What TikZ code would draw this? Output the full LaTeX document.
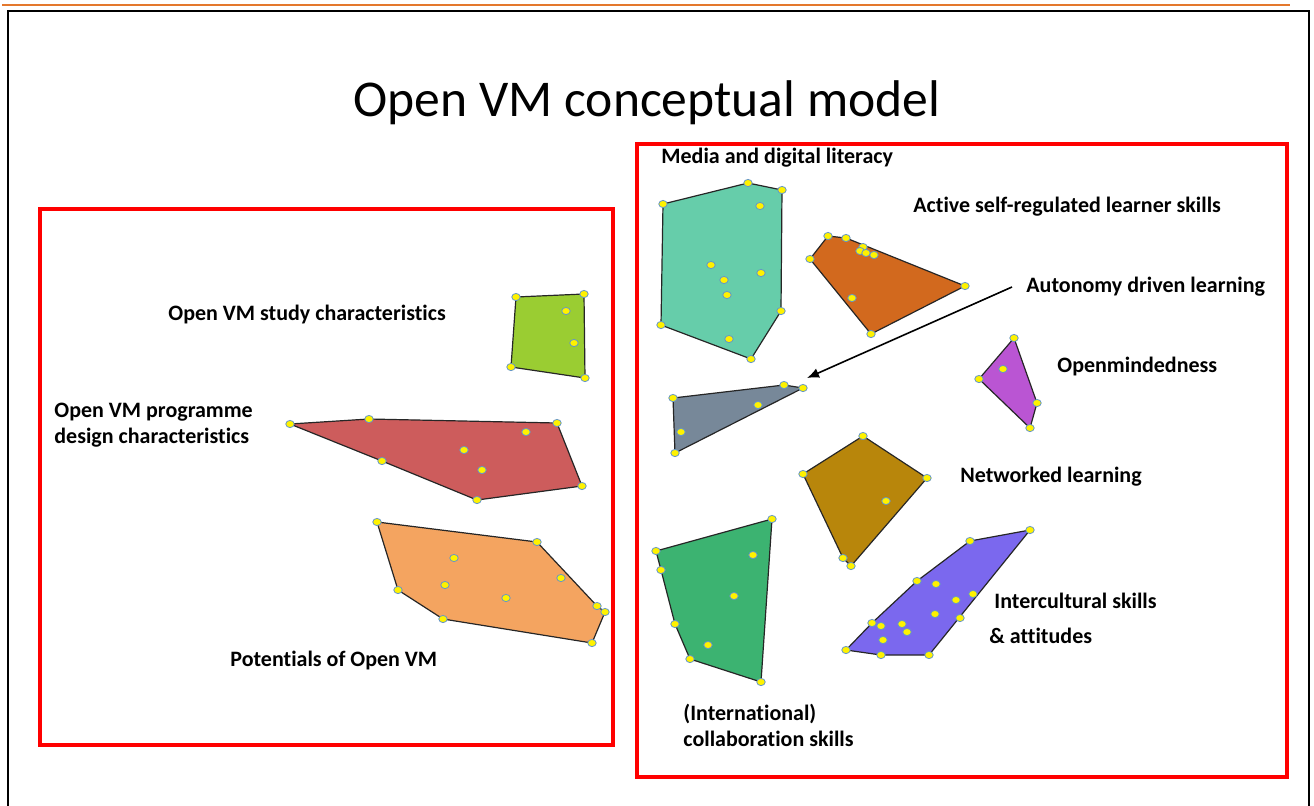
\documentclass[tikz,border=0pt]{standalone}
\usepackage{fontspec}
\setmainfont{Carlito}[Ligatures=NoCommon]
\usetikzlibrary{positioning,arrows.meta}
\definecolor{teal1}{RGB}{102,205,170}
\definecolor{choco}{RGB}{210,105,30}
\definecolor{orchid1}{RGB}{186,85,211}
\definecolor{slate1}{RGB}{119,136,153}
\definecolor{gold1}{RGB}{184,134,11}
\definecolor{sea1}{RGB}{60,179,113}
\definecolor{slateblue1}{RGB}{123,104,238}
\definecolor{ygreen}{RGB}{154,205,50}
\definecolor{indred}{RGB}{205,92,92}
\definecolor{sandy}{RGB}{244,164,96}
\definecolor{dotrim}{RGB}{100,150,200}
\definecolor{topline}{RGB}{228,120,45}
\tikzset{
  groupbox/.style={draw=red, line width=2pt},
  hull/.style={draw=black!85, line width=0.6pt, line join=round},
  seedpt/.style={fill=yellow, draw=dotrim, line width=0.4pt},
  clusterlabel/.style={font=\bfseries\fontsize{11}{13}\selectfont, inner sep=0pt, align=left},
  pointer/.style={-{Latex[length=6pt,width=5pt]}, line width=0.8pt}
}
\begin{document}
\begin{tikzpicture}[x=0.5pt, y=-0.5pt]
  \useasboundingbox (0,0) rectangle (1314,805);
  % page frame
  \draw[topline, line width=0.8pt] (2,5) -- (1290,5);
  \draw[black, line width=1.2pt] (8,820) -- (8,11) -- (1309,11) -- (1309,820);
  \node[font=\fontsize{25.8}{30}\selectfont, inner sep=0pt] (title) at (647,103) {Open VM conceptual model};
  % the two groups
  \draw[groupbox] (40,209) rectangle (613,745);
  \draw[groupbox] (637,144) rectangle (1287,777);

  % left group clusters
  \filldraw[hull, fill=ygreen] (516,297) -- (584,294) -- (585,378) -- (511,367) -- cycle;
  \filldraw[hull, fill=indred] (290,424) -- (369,419) -- (557,423) -- (582,486) -- (477,500) -- (382,461) -- cycle;
  \filldraw[hull, fill=sandy] (377,522) -- (537,542) -- (597,606) -- (605,612) -- (592,643) -- (443,619) -- (398,590) -- cycle;
  % right group clusters
  \filldraw[hull, fill=teal1] (663,204) -- (748,183) -- (782,190) -- (781,311) -- (751,359) -- (661,325) -- cycle;
  \filldraw[hull, fill=choco] (828,236) -- (846,238) -- (965,286) -- (871,334) -- (810,259) -- cycle;
  \filldraw[hull, fill=orchid1] (1014,338) -- (1037,403) -- (1030,428) -- (979,379) -- cycle;
  \filldraw[hull, fill=slate1] (673,398) -- (784,385) -- (803,388) -- (675,453) -- cycle;
  \filldraw[hull, fill=gold1] (863,436) -- (927,478) -- (851,566) -- (843,558) -- (803,474) -- cycle;
  \filldraw[hull, fill=sea1] (772,519) -- (761,682) -- (690,659) -- (675,624) -- (661,570) -- (656,551) -- cycle;
  \filldraw[hull, fill=slateblue1] (1030,530) -- (970,541) -- (917,581) -- (872,623) -- (846,650) -- (881,655) -- (929,655) -- cycle;

  % data points
  \foreach \p in {(516,297),(584,294),(585,378),(511,367),(566,311),(574,343),
      (290,424),(369,419),(557,423),(582,486),(477,500),(382,461),(526,432),(464,450),(482,470),
      (377,522),(537,542),(597,606),(605,612),(592,643),(443,619),(398,590),(454,558),(445,585),(506,598),(561,578),
      (663,204),(748,183),(782,190),(781,311),(751,359),(661,325),(760,206),(711,265),(724,280),(761,273),(727,295),(729,339),
      (828,236),(846,238),(965,286),(871,334),(810,259),(863,247),(860,251),(866,253),(874,255),(852,298),
      (1014,338),(1037,403),(1030,428),(979,379),(1003,369),
      (673,398),(784,385),(803,388),(675,453),(758,405),(681,432),
      (863,436),(927,478),(851,566),(843,558),(803,474),(886,501),
      (772,519),(761,682),(690,659),(675,624),(661,570),(656,551),(753,555),(734,596),(708,645),
      (1030,530),(970,541),(917,581),(872,623),(846,650),(881,655),(929,655),(936,584),(956,600),(973,594),(935,614),(960,618),(881,626),(902,624),(907,632),(883,640)}
    \filldraw[seedpt] \p ellipse (4.2 and 3.6);

  % labels
  \node[clusterlabel, anchor=west] (studylbl) at (168,315) {Open VM study characteristics};
  \node[clusterlabel, anchor=west] (designlbl) at (54,425) {Open VM programme\\design characteristics};
  \node[clusterlabel, anchor=west] (potlbl) at (230,660) {Potentials of Open VM};
  \node[clusterlabel, anchor=west] (medialbl) at (661,158) {Media and digital literacy};
  \node[clusterlabel, anchor=west] (activelbl) at (913,207) {Active self-regulated learner skills};
  \node[clusterlabel, anchor=west] (autolbl) at (1026,287) {Autonomy driven learning};
  \node[clusterlabel, anchor=west] (openlbl) at (1057,367) {Openmindedness};
  \node[clusterlabel, anchor=west] (netlbl) at (960,477) {Networked learning};
  \node[clusterlabel, anchor=west] (intlbl) at (994,601) {Intercultural skills};
  \node[clusterlabel, anchor=west] (attlbl) at (989,636) {\& attitudes};
  \node[clusterlabel, anchor=west] (collbl) at (683,725) {(International)\\collaboration skills};

  % arrow to the grey cluster
  \coordinate (graytip) at (807,378);
  \draw[pointer] ([xshift=-7pt]autolbl.west) -- (graytip);
\end{tikzpicture}
\end{document}
